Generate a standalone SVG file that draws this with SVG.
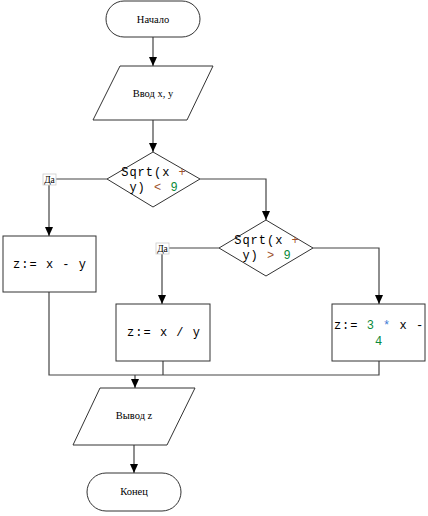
<svg xmlns="http://www.w3.org/2000/svg" width="428" height="516" viewBox="0 0 428 516">
<style>
.shape{fill:#fff;stroke:#333;stroke-width:1}
.ln{fill:none;stroke:#444;stroke-width:1.2}
.t{font-family:"Liberation Serif","Times New Roman",serif;font-size:10.5px;fill:#000;text-anchor:middle}
.s{font-size:9.5px}
.c{font-family:"Liberation Mono","Courier New",monospace;font-size:12px;letter-spacing:1px;fill:#000;text-anchor:middle}
.num{fill:#0a8a3a}
.op{fill:#a0522d}
.st{fill:#3a7bd5}
.lbl{fill:#fff;stroke:#ccc;stroke-width:0.8}
</style>
<defs>
<marker id="ar" markerWidth="10" markerHeight="10" refX="9" refY="5" orient="auto" markerUnits="userSpaceOnUse">
<path d="M0,1 L9,5 L0,9 z" fill="#000"/>
</marker>
</defs>
<rect width="428" height="516" fill="#fff"/>
<g id="connectors">
<line class="ln" x1="153" y1="37" x2="153" y2="66" marker-end="url(#ar)"/>
<line class="ln" x1="153" y1="120" x2="153" y2="152" marker-end="url(#ar)"/>
<polyline class="ln" points="107,179 49,179 49,236" marker-end="url(#ar)"/>
<polyline class="ln" points="200,179 266,179 266,220" marker-end="url(#ar)"/>
<polyline class="ln" points="219,248 162,248 162,304" marker-end="url(#ar)"/>
<polyline class="ln" points="313,248 379,248 379,304" marker-end="url(#ar)"/>
<polyline class="ln" points="49,292 49,375 379,375 379,361"/>
<line class="ln" x1="163" y1="361" x2="163" y2="375"/>
<line class="ln" x1="135" y1="375" x2="135" y2="388" marker-end="url(#ar)"/>
<line class="ln" x1="134" y1="445" x2="134" y2="473" marker-end="url(#ar)"/>
</g>
<g id="start">
<rect class="shape" x="106" y="1" width="94" height="36" rx="18" ry="18"/>
<text class="t" x="153" y="23">Начало</text>
</g>
<g id="input">
<polygon class="shape" points="120,66 213,66 187,120 93,120"/>
<text class="t" x="153" y="97">Ввод x, y</text>
</g>
<g id="cond1">
<polygon class="shape" points="153,152 200,179 153,207 107,179"/>
<text class="c" x="154" y="176">Sqrt(x <tspan class="op">+</tspan></text>
<text class="c" x="154" y="191">y) <tspan class="op">&lt;</tspan> <tspan class="num">9</tspan></text>
</g>
<g id="label1">
<rect class="lbl" x="43" y="174" width="13" height="11"/>
<text class="t s" x="49.5" y="183">Да</text>
</g>
<g id="assign1">
<rect class="shape" x="3" y="236" width="93" height="56"/>
<text class="c" x="50" y="268">z:= x - y</text>
</g>
<g id="cond2">
<polygon class="shape" points="266,220 313,248 266,276 219,248"/>
<text class="c" x="267" y="244">Sqrt(x <tspan class="op">+</tspan></text>
<text class="c" x="267" y="259">y) <tspan class="op">&gt;</tspan> <tspan class="num">9</tspan></text>
</g>
<g id="label2">
<rect class="lbl" x="156" y="243" width="13" height="11"/>
<text class="t s" x="162.5" y="252">Да</text>
</g>
<g id="assign2">
<rect class="shape" x="116" y="304" width="94" height="57"/>
<text class="c" x="164" y="336">z:= x / y</text>
</g>
<g id="assign3">
<rect class="shape" x="332" y="304" width="93" height="57"/>
<text class="c" x="379" y="329">z:= <tspan class="num">3</tspan> <tspan class="st">*</tspan> x -</text>
<text class="c" x="379" y="345"><tspan class="num">4</tspan></text>
</g>
<g id="output">
<polygon class="shape" points="100,388 195,388 167,445 73,445"/>
<text class="t" x="134" y="419">Вывод z</text>
</g>
<g id="end">
<rect class="shape" x="87" y="473" width="94" height="38" rx="19" ry="19"/>
<text class="t" x="134" y="495">Конец</text>
</g>
</svg>
